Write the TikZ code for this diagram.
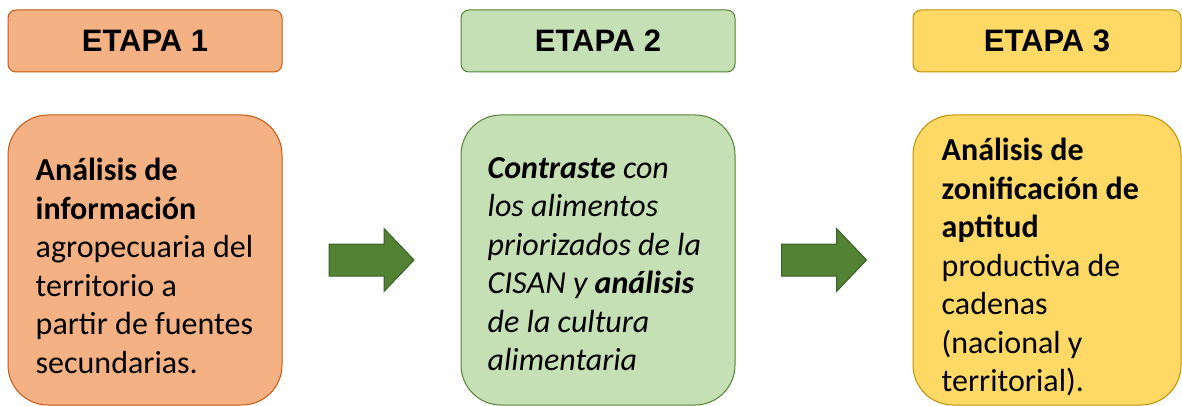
\documentclass[tikz,border=0pt]{standalone}
\usepackage{fontspec}
\setmainfont{Carlito}
\newfontfamily\etapafont{Liberation Sans}
\usetikzlibrary{positioning,calc}
\definecolor{naranja}{HTML}{F4B183}
\definecolor{bordenaranja}{HTML}{C55A11}
\definecolor{verde}{HTML}{C5E0B4}
\definecolor{bordeverde}{HTML}{548235}
\definecolor{amarillo}{HTML}{FFD966}
\definecolor{bordeamarillo}{HTML}{BF9000}
\definecolor{verdeflecha}{HTML}{548235}
\definecolor{bordeflecha}{HTML}{3B5E25}
\begin{document}
\begin{tikzpicture}[x=1pt,y=-1pt,
    encabezado/.style 2 args={fill=#1,draw=#2,line width=1pt,rounded corners=8pt,
        minimum width=274pt,minimum height=62pt,inner sep=0pt,
        font=\etapafont\bfseries\fontsize{31}{36}\selectfont},
    cuerpo/.style 2 args={fill=#1,draw=#2,line width=1pt,rounded corners=40pt,
        minimum width=274pt,minimum height=290pt,inner sep=0pt},
    texto/.style={anchor=west,align=left,inner sep=0pt,font=\fontsize{32}{38.5}\selectfont},
    flecha/.style={fill=verdeflecha,draw=bordeflecha,line width=1pt}]
    \useasboundingbox (0,0) rectangle (1182,406);
    % encabezados
    \node[encabezado={naranja}{bordenaranja}] (etapa1) at (145,41) {ETAPA 1};
    \node[encabezado={verde}{bordeverde}] (etapa2) at (598,41) {ETAPA 2};
    \node[encabezado={amarillo}{bordeamarillo},minimum width=268pt] (etapa3) at (1047,41) {ETAPA 3};
    % cajas
    \node[cuerpo={naranja}{bordenaranja}] (caja1) at (145,260) {};
    \node[cuerpo={verde}{bordeverde}] (caja2) at (598,260) {};
    \node[cuerpo={amarillo}{bordeamarillo},minimum width=268pt] (caja3) at (1047,260) {};
    \node[texto,yshift=-6pt] (texto1) at ([xshift=28pt]caja1.west)
        {\textbf{Análisis de}\\\textbf{información}\\agropecuaria del\\territorio a\\partir de fuentes\\secundarias.};
    \node[texto,yshift=-4pt,font=\itshape\fontsize{32}{38.5}\selectfont] (texto2) at ([xshift=27pt]caja2.west)
        {\textbf{Contraste} con\\los alimentos\\priorizados de la\\CISAN y \textbf{análisis}\\de la cultura\\alimentaria};
    \node[texto,yshift=-7pt] (texto3) at ([xshift=29pt]caja3.west)
        {\textbf{Análisis de}\\\textbf{zonificación de}\\\textbf{aptitud}\\productiva de\\cadenas\\(nacional y\\territorial).};
    % flechas
    \foreach \a/\b in {caja1/caja2,caja2/caja3}
        \draw[flecha,shift={($(\a.east)!.5!(\b.west)$)}] (-42.5,-16) -- (12.5,-16) -- (12.5,-31.5)
            -- (42.5,0) -- (12.5,31.5) -- (12.5,16) -- (-42.5,16) -- cycle;
\end{tikzpicture}
\end{document}
